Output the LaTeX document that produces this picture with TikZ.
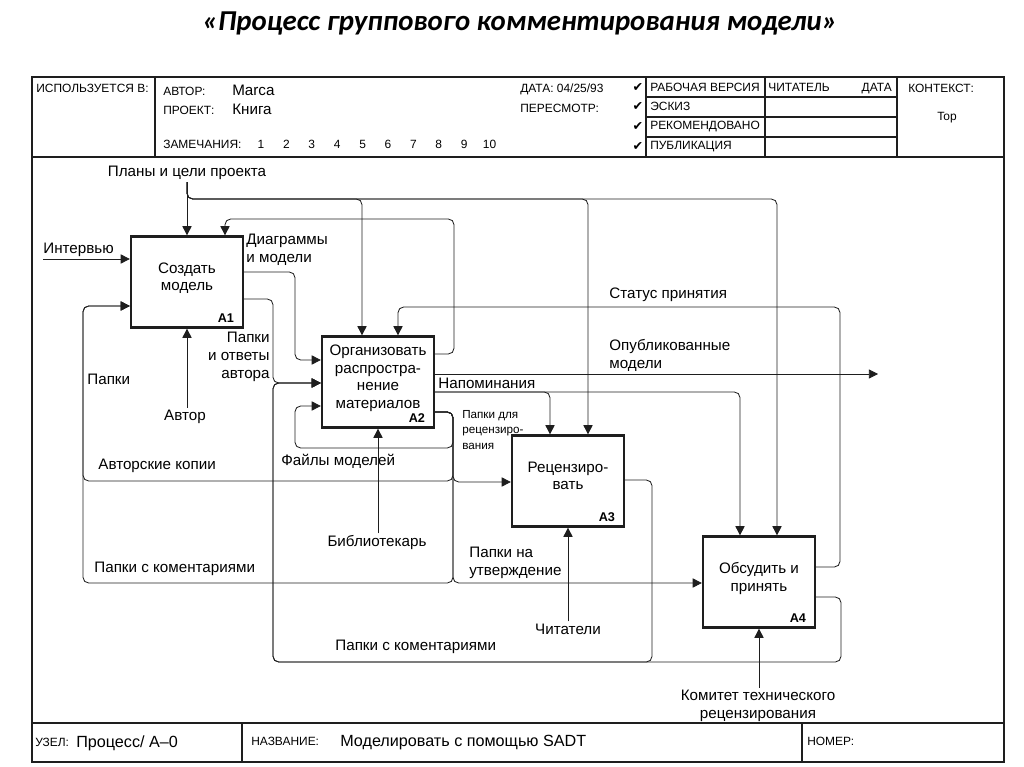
\documentclass[tikz,border=0pt]{standalone}
\usepackage{fontspec}
\setmainfont{Liberation Sans}
\newfontfamily\titlefont{Carlito}
\newfontfamily\checkfont{DejaVu Sans}
\usetikzlibrary{arrows.meta}
\definecolor{inkgray}{RGB}{30, 30, 30}

\tikzset{
  func/.style={draw=inkgray, line width=1.6pt, minimum width=2.8cm, minimum height=2.275cm,
               align=center, inner sep=0pt, text depth=7.5pt, font=\fontsize{10.8}{12.6}\selectfont},
  fnum/.style={anchor=south east, inner xsep=7pt, inner ysep=4pt, text depth=0pt, font=\bfseries\fontsize{9}{10}\selectfont},
  flow/.style={draw=inkgray, line width=0.6pt, rounded corners=4pt, -{Triangle[length=6.5pt,width=6.5pt]}},
  lbl/.style={inner sep=1.5pt, align=left, font=\fontsize{10.8}{12.8}\selectfont},
  small lbl/.style={inner sep=0pt, align=left, font=\fontsize{8.3}{10.7}\selectfont},
  form/.style={inner sep=0pt, anchor=west, font=\fontsize{8.5}{10}\selectfont},
  frame/.style={draw=inkgray, line width=0.9pt}
}

\begin{document}
\begin{tikzpicture}[x=0.025cm, y=-0.025cm]
  \useasboundingbox (0,0) rectangle (1024,767);

  \node[font=\titlefont\bfseries\itshape\fontsize{20.5}{24}\selectfont] (title) at (520,23)
       {«Процесс группового комментирования модели»};

  % form
  \draw[frame] (32,77) rectangle (1004,762);
  \draw[frame] (32,157) -- (1004,157)  (32,723) -- (1004,723);
  \draw[frame] (155,77) -- (155,157)  (646,77) -- (646,157)  (765,77) -- (765,157)  (897,77) -- (897,157)
               (646,97) -- (897,97)  (646,117) -- (897,117)  (646,137) -- (897,137)
               (242,723) -- (242,762)  (802,723) -- (802,762);

  \node[form] (usedat)  at (36,88)  {ИСПОЛЬЗУЕТСЯ В:};
  \node[form] (author)  at (163,91) {АВТОР:};
  \node[form] (project) at (163,110) {ПРОЕКТ:};
  \node[form] (notes)   at (163,144) {ЗАМЕЧАНИЯ:};
  \node[lbl, anchor=west, inner sep=0pt] (authname) at (232,90)  {Marca};
  \node[lbl, anchor=west, inner sep=0pt] (projname) at (232,109) {Книга};
  \foreach \n in {1,...,10}
    \node[form, anchor=center] (note\n) at ({235.6+25.4*\n},144) {\n};
  \node[form] (date)     at (520,89)  {ДАТА: 04/25/93};
  \node[form] (revision) at (520,108) {ПЕРЕСМОТР:};
  \foreach \y in {88,107,127,147}
    \node[font=\checkfont\fontsize{9}{9}\selectfont, inner sep=0pt] (check\y) at (638,\y) {✔};
  \node[form] (working)  at (650,87)  {РАБОЧАЯ ВЕРСИЯ};
  \node[form] (draft)    at (650,106) {ЭСКИЗ};
  \node[form] (recomm)   at (650,127) {РЕКОМЕНДОВАНО};
  \node[form] (publ)     at (650,147) {ПУБЛИКАЦИЯ};
  \node[form] (reader)   at (768,87)  {ЧИТАТЕЛЬ};
  \node[form, anchor=east] (rdate) at (892,88.5) {ДАТА};
  \node[form] (context)  at (908,88)  {КОНТЕКСТ:};
  \node[form, anchor=center] (top) at (947,118) {Top};
  \node[form] (node)     at (35,742)  {УЗЕЛ:};
  \node[lbl, anchor=west, inner sep=0pt, font=\fontsize{11.5}{13}\selectfont] (nodename) at (76,743) {Процесс/ A–0};
  \node[form] (titlef)   at (251,741) {НАЗВАНИЕ:};
  \node[lbl, anchor=west, inner sep=0pt, font=\fontsize{11.5}{13}\selectfont] (titlename) at (340,743) {Моделировать с помощью SADT};
  \node[form] (number)   at (807,741) {НОМЕР:};

  % activities
  \node[func, label={[fnum]south east:A1}] (a1) at (187,282) {Создать\\модель};
  \node[func, label={[fnum]south east:A2}] (a2) at (378,382) {Организовать\\распростра-\\нение\\материалов};
  \node[func, label={[fnum]south east:A3}] (a3) at (568,481) {Рецензиро-\\вать};
  \node[func, label={[fnum]south east:A4}] (a4) at (759,582) {Обсудить и\\принять};

  % labels
  \node[lbl] (plans) at (187,173) {Планы и цели проекта};
  \node[lbl, anchor=west] (interview) at (41,250) {Интервью};
  \coordinate (intv-in) at (43,259);
  \node[lbl, anchor=west] (diagrams) at (244,250) {Диаграммы\\и модели};
  \node[lbl, anchor=east, align=right] (answers) at (272,357) {Папки\\и ответы\\автора};
  \node[lbl, anchor=west] (folders) at (85,379) {Папки};
  \node[lbl] (writer) at (185,417) {Автор};
  \node[lbl, anchor=west] (status) at (607,295) {Статус принятия};
  \node[lbl, anchor=west] (published) at (607,355) {Опубликованные\\модели};
  \coordinate (pub-out) at (878,374);
  \node[lbl, anchor=west] (reminders) at (436,383) {Напоминания};
  \node[small lbl, anchor=west] (forreview) at (462,430) {Папки для\\рецензиро-\\вания};
  \node[lbl, anchor=west] (files) at (279,461) {Файлы моделей};
  \node[lbl, anchor=west] (copies) at (96,466) {Авторские копии};
  \node[lbl] (librarian) at (377,543) {Библиотекарь};
  \node[lbl, anchor=west] (approval) at (467,563) {Папки на\\утверждение};
  \node[lbl, anchor=west] (comments1) at (92,569) {Папки с коментариями};
  \node[lbl] (readers) at (568,629) {Читатели};
  \node[lbl, anchor=west] (comments2) at (333,647) {Папки с коментариями};
  \node[lbl, align=center] (committee) at (758,706) {Комитет технического\\рецензирования};

  % controls
  \draw[flow] (plans) -- (a1.north);
  \draw[flow] (plans) |- (362,199) -- (a2.north -| 362,0);
  \draw[flow] (plans) |- (588,199) -- (a3.north -| 588,0);
  \draw[flow] (plans) |- (777,199) -- (a4.north -| 777,0);
  \draw[flow] (a2.east |- 0,354) -| (454,219) -| (a1.north -| 225,0);
  \draw[flow] (a4.east |- 0,567) -| (840,307) -| (a2.north -| 398,0);
  \draw[flow] (a2.east |- 0,392) -| (a3.north -| 550,0);
  \draw[flow] (a2.east |- 0,392) -| (a4.north -| 740,0);

  % inputs and outputs
  \draw[flow] (intv-in) -- (a1.west |- intv-in);
  \draw[flow] (a1.east |- 0,272) -| (295,360) -- (a2.west |- 0,360);
  \draw[flow] (a1.east |- 0,299) -| (273,383) -- (a2.west |- 0,383);
  \draw[flow] (a3.east |- 0,480) -| (652,662) -| (273,383) -- (a2.west |- 0,383);
  \draw[flow] (a4.east |- 0,597) -| (841,662) -| (273,383) -- (a2.west |- 0,383);
  \draw[flow] (a2.east |- 0,412) -| (453,448) -| (295,406) -- (a2.west |- 0,406);
  \draw[flow] (a2.east |- 0,412) -| (453,482) -- (a3.west |- 0,482);
  \draw[flow] (a2.east |- 0,412) -| (453,481) -| (83,306) -- (a1.west |- 0,306);
  \draw[flow] (a2.east |- 0,412) -| (453,583) -| (83,306) -- (a1.west |- 0,306);
  \draw[flow] (a2.east |- 0,412) -| (453,583) -- (a4.west |- 0,583);
  \draw[flow] (a2.east |- 0,374) -- (pub-out);

  % mechanisms
  \draw[flow] (writer.north -| a1.south) -- (a1.south);
  \draw[flow] (librarian.north -| a2.south) -- (a2.south);
  \draw[flow] (readers.north -| a3.south) -- (a3.south);
  \draw[flow] (committee.north -| a4.south) -- (a4.south);
\end{tikzpicture}
\end{document}
